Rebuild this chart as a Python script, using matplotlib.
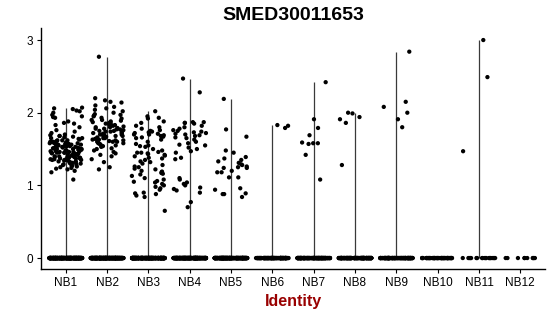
import numpy as np
import matplotlib
matplotlib.use("Agg")
import matplotlib.pyplot as plt

plt.rcParams['font.family'] = ['Liberation Sans', 'DejaVu Sans']

title = "SMED30011653"
categories = ["NB1", "NB2", "NB3", "NB4", "NB5", "NB6", "NB7", "NB8", "NB9", "NB10", "NB11", "NB12"]

# expressed (non-zero) values per cluster
nb1 = [2.07, 2.06, 2.05, 2.03, 2.02, 2.0, 1.97, 1.95, 1.94, 1.93, 1.88, 1.86, 1.85, 1.83, 1.8,
       1.76, 1.74, 1.72, 1.7, 1.69, 1.68, 1.68, 1.67, 1.66, 1.65, 1.65, 1.64, 1.63, 1.62, 1.62,
       1.61, 1.6, 1.6, 1.59, 1.59, 1.58, 1.58, 1.57, 1.57, 1.56, 1.56, 1.55, 1.55, 1.55, 1.54,
       1.54, 1.53, 1.53, 1.52, 1.52, 1.51, 1.51, 1.5, 1.5, 1.5, 1.49, 1.49, 1.48, 1.48, 1.47,
       1.47, 1.46, 1.46, 1.45, 1.45, 1.45, 1.44, 1.44, 1.43, 1.43, 1.42, 1.42, 1.41, 1.41, 1.4,
       1.4, 1.39, 1.39, 1.38, 1.38, 1.37, 1.37, 1.36, 1.36, 1.35, 1.35, 1.34, 1.33, 1.33, 1.32,
       1.31, 1.3, 1.3, 1.29, 1.28, 1.27, 1.26, 1.25, 1.24, 1.23, 1.22, 1.2, 1.18, 1.08,
       1.58, 1.56, 1.54, 1.52, 1.5, 1.48, 1.46, 1.44, 1.42, 1.4, 1.38, 1.36, 1.34, 1.32, 1.62,
       1.6, 1.57, 1.53, 1.51, 1.49, 1.47, 1.45, 1.43, 1.41, 1.39, 1.37, 1.35, 1.31, 1.29, 1.27]
nb2 = [2.77, 2.2, 2.17, 2.15, 2.14, 2.1, 2.08, 2.06, 2.04, 2.02, 2.0, 1.98, 1.97, 1.96, 1.95,
       1.93, 1.92, 1.9, 1.89, 1.88, 1.87, 1.86, 1.85, 1.84, 1.83, 1.82, 1.81, 1.8, 1.79, 1.78,
       1.77, 1.77, 1.76, 1.75, 1.74, 1.73, 1.72, 1.71, 1.7, 1.7, 1.69, 1.68, 1.67, 1.66, 1.65,
       1.65, 1.64, 1.63, 1.62, 1.61, 1.6, 1.6, 1.59, 1.58, 1.57, 1.56, 1.55, 1.54, 1.53, 1.51,
       1.5, 1.48, 1.46, 1.44, 1.42, 1.4, 1.36, 1.32, 1.25, 1.22,
       1.9, 1.85, 1.8, 1.78, 1.75, 1.72, 1.68, 1.66, 1.63, 1.6, 1.58, 1.7, 1.74, 1.62]
nb3 = [2.02, 1.95, 1.93, 1.92, 1.88, 1.86, 1.82, 1.8, 1.78, 1.76, 1.74, 1.73, 1.72, 1.71, 1.7,
       1.69, 1.68, 1.66, 1.65, 1.63, 1.6, 1.57, 1.55, 1.54, 1.53, 1.5, 1.48, 1.46, 1.45, 1.44,
       1.43, 1.42, 1.4, 1.38, 1.37, 1.35, 1.33, 1.32, 1.3, 1.28, 1.26, 1.25, 1.23, 1.22, 1.2,
       1.18, 1.17, 1.16, 1.15, 1.13, 1.1, 1.08, 1.06, 1.05, 1.04, 1.02, 1.0, 0.98, 0.96, 0.94,
       0.9, 0.89, 0.88, 0.86, 0.84, 0.65, 1.75, 1.7, 1.67, 1.45, 1.41, 1.19]
nb4 = [2.47, 2.28, 1.87, 1.87, 1.86, 1.86, 1.85, 1.82, 1.8, 1.78, 1.76, 1.75, 1.74, 1.73, 1.72,
       1.71, 1.7, 1.69, 1.68, 1.66, 1.65, 1.63, 1.6, 1.58, 1.56, 1.55, 1.52, 1.5, 1.47, 1.45,
       1.38, 1.36, 1.1, 1.08, 1.04, 1.02, 1.0, 0.97, 0.95, 0.93, 0.9, 0.77, 0.7]
nb5 = [2.19, 1.77, 1.67, 1.48, 1.45, 1.39, 1.37, 1.35, 1.33, 1.31, 1.29, 1.28, 1.26, 1.25,
       1.24, 1.24, 1.2, 1.18, 1.18, 1.11, 1.11, 0.96, 0.94, 0.89, 0.88, 0.88, 0.84]
nb6 = [1.83, 1.82, 1.79]
nb7 = [2.42, 1.91, 1.79, 1.69, 1.59, 1.58, 1.58, 1.57, 1.42, 1.08]
nb8 = [2.0, 1.99, 1.94, 1.91, 1.86, 1.28]
nb9 = [2.84, 2.15, 2.08, 2.0, 1.91, 1.80]
nb10 = []
nb11 = [3.0, 2.49, 1.47]
nb12 = []
expressed = [nb1, nb2, nb3, nb4, nb5, nb6, nb7, nb8, nb9, nb10, nb11, nb12]
# number of cells with zero expression per cluster
zero_counts = [320, 320, 300, 280, 260, 130, 160, 160, 130, 60, 20, 10]

fig = plt.figure(figsize=(5.5, 3.16), dpi=100)
ax = fig.add_axes([0.0745, 0.1487, 0.9165, 0.7623])

rng = np.random.default_rng(7)
for i, (vals, nz) in enumerate(zip(expressed, zero_counts)):
    pos = i + 1
    data = np.concatenate([np.zeros(nz), np.array(vals, dtype=float)])
    if data.max() > data.min():
        ax.vlines(pos, data.min(), data.max(), color='#3a3a3a', lw=0.9, zorder=1)
    xj = pos + rng.uniform(-0.4, 0.4, size=len(data))
    ax.scatter(xj, data, s=9.5, color='black', edgecolors='none', zorder=2)

ax.set_xlim(0.4, 12.6)
ax.set_ylim(-0.151, 3.164)
ax.set_xticks(range(1, len(categories) + 1))
ax.set_xticklabels(categories, fontsize=8.5)
ax.set_yticks([0, 1, 2, 3])
ax.set_yticklabels(["0", "1", "2", "3"], fontsize=8.5)
ax.tick_params(axis='both', length=3, width=0.8, color='black', pad=3)
for s in ['top', 'right']:
    ax.spines[s].set_visible(False)
for s in ['left', 'bottom']:
    ax.spines[s].set_linewidth(1.0)
    ax.spines[s].set_color('black')

ax.set_title(title, fontsize=14, fontweight='bold', pad=6)
ax.set_xlabel("Identity", fontsize=11.5, fontweight='bold', color='#990000', labelpad=3)

fig.savefig("out.png", dpi=100)
